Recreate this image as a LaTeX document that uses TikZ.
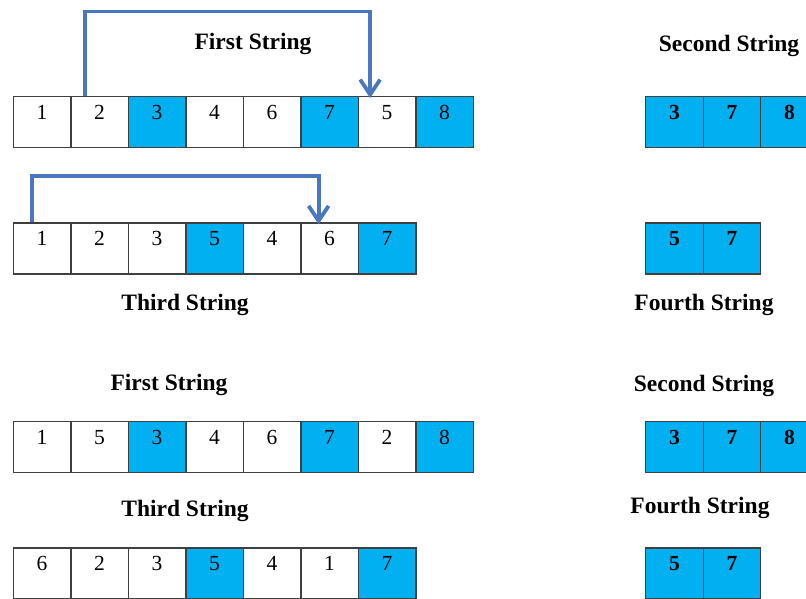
\documentclass[tikz,border=0pt]{standalone}
\usepackage{fontspec}
\setmainfont{Liberation Serif}
\usetikzlibrary{arrows.meta}
\definecolor{cellblue}{HTML}{00B0F0}
\definecolor{arrowblue}{HTML}{4A78C0}
\definecolor{cellline}{HTML}{404040}
\tikzset{
  cell/.style={draw=cellline, line width=1.3pt, rectangle, inner sep=0pt,
    minimum width=57.5pt, minimum height=51pt, text height=23pt, text depth=28pt,
    anchor=north west, font=\fontsize{21.5}{21.5}\selectfont},
  hot/.style={fill=cellblue},
  boldcell/.style={font=\fontsize{21.5}{21.5}\selectfont\bfseries},
  title/.style={font=\fontsize{23.5}{24}\selectfont\bfseries, inner sep=0pt},
  conn/.style={draw=arrowblue, line width=3.8pt, line join=miter,
    -{Straight Barb[length=15pt,width=20pt,line width=3.8pt]}}
}
\begin{document}
\begin{tikzpicture}[x=1pt,y=-1pt]
\useasboundingbox (0,0) rectangle (806,598);
\clip (0,0) rectangle (806,598);
% Row 1 left
\foreach \v/\s [count=\i] in {1/,2/,3/hot,4/,6/,7/hot,5/,8/hot}
  \node[cell,\s] (ra\i) at ({12.7+57.5*(\i-1)},96) {\v};
% Row 1 right
\foreach \v [count=\i] in {3,7,8}
  \node[cell,hot,boldcell] (sa\i) at ({645+57.5*(\i-1)},96) {\v};
% Row 2 left
\foreach \v/\s [count=\i] in {1/,2/,3/,5/hot,4/,6/,7/hot}
  \node[cell,\s] (rb\i) at ({12.7+57.5*(\i-1)},222.3) {\v};
% Row 2 right
\foreach \v [count=\i] in {5,7}
  \node[cell,hot,boldcell] (sb\i) at ({645+57.5*(\i-1)},222.3) {\v};
% Row 3 left
\foreach \v/\s [count=\i] in {1/,5/,3/hot,4/,6/,7/hot,2/,8/hot}
  \node[cell,\s] (rc\i) at ({12.7+57.5*(\i-1)},421) {\v};
% Row 3 right
\foreach \v [count=\i] in {3,7,8}
  \node[cell,hot,boldcell] (sc\i) at ({645+57.5*(\i-1)},421) {\v};
% Row 4 left
\foreach \v/\s [count=\i] in {6/,2/,3/,5/hot,4/,1/,7/hot}
  \node[cell,\s] (rd\i) at ({12.7+57.5*(\i-1)},547.3) {\v};
% Row 4 right
\foreach \v [count=\i] in {5,7}
  \node[cell,hot,boldcell] (sd\i) at ({645+57.5*(\i-1)},547.3) {\v};
% Titles
\node[title] (t1) at (253,44) {First String};
\node[title] (t2) at (729,46) {Second String};
\node[title] (t3) at (185,305) {Third String};
\node[title] (t4) at (704,305) {Fourth String};
\node[title] (t5) at (169,385) {First String};
\node[title] (t6) at (704,386) {Second String};
\node[title] (t7) at (185,511) {Third String};
\node[title] (t8) at (700,508) {Fourth String};
% Arrows
\coordinate (a1) at ([xshift=-14.5pt]ra2.north);
\coordinate (b1) at ([xshift=-17pt,yshift=-2pt]ra7.north);
\draw[conn] (a1) -- ++(0,-84.5) -| (b1);
\coordinate (a2) at ([xshift=-10.5pt]rb1.north);
\coordinate (b2) at ([xshift=-11pt,yshift=-2pt]rb6.north);
\draw[conn] (a2) -- ++(0,-46.5) -| (b2);
\end{tikzpicture}
\end{document}
